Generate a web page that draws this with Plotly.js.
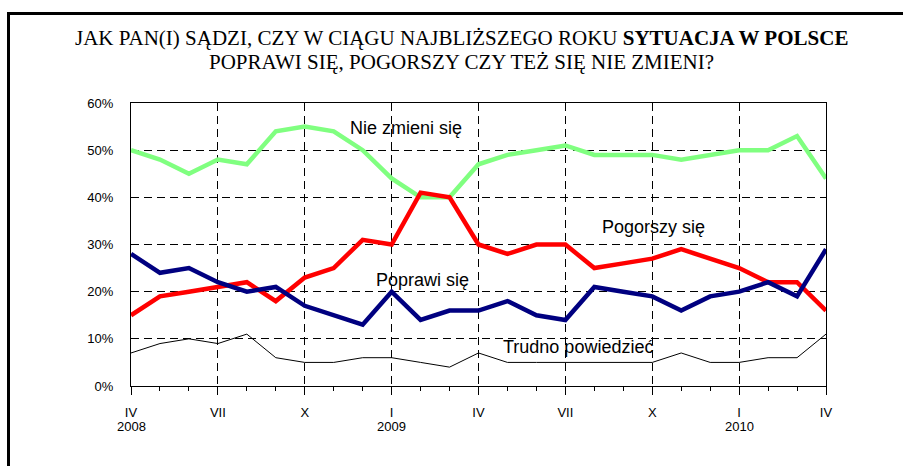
<!DOCTYPE html>
<html>
<head>
<meta charset="utf-8">
<script src="https://cdn.plot.ly/plotly-3.0.1.min.js"></script>
<style>
  html, body { margin: 0; padding: 0; background: #fff; overflow: hidden; }
  #frame {
    position: absolute; left: 7px; top: 12px; width: 1000px; height: 1000px;
    border-left: 3px solid #000; border-top: 3px solid #000; pointer-events: none;
  }
  #chart { width: 903px; height: 466px; }
</style>
</head>
<body>
<div id="chart"></div>
<div id="frame"></div>
<script>
// Monthly survey points, IV 2008 .. IV 2010
const months = Array.from({ length: 25 }, (_, i) => i);

const nieZmieni = [50, 48, 45, 48, 47, 54, 55, 54, 50, 44, 40, 40, 47, 49, 50, 51, 49, 49, 49, 48, 49, 50, 50, 53, 44];
const pogorszy  = [15, 19, 20, 21, 22, 18, 23, 25, 31, 30, 41, 40, 30, 28, 30, 30, 25, 26, 27, 29, 27, 25, 22, 22, 16];
const poprawi   = [28, 24, 25, 22, 20, 21, 17, 15, 13, 20, 14, 16, 16, 18, 15, 14, 21, 20, 19, 16, 19, 20, 22, 19, 29];
const trudno    = [7, 9, 10, 9, 11, 6, 5, 5, 6, 6, 5, 4, 7, 5, 5, 5, 5, 5, 5, 7, 5, 5, 6, 6, 11];

const tickVals = [0, 3, 6, 9, 12, 15, 18, 21, 24];
const tickText = ['IV', 'VII', 'X', 'I', 'IV', 'VII', 'X', 'I', 'IV'];
const yearVals = [0, 9, 21];
const yearText = ['2008', '2009', '2010'];

const titleLines = [
  'JAK PAN(I) SĄDZI, CZY W CIĄGU NAJBLIŻSZEGO ROKU <b>SYTUACJA W POLSCE</b>',
  'POPRAWI SIĘ, POGORSZY CZY TEŻ SIĘ NIE ZMIENI?'
];

const series = [
  { name: 'Nie zmieni się', y: nieZmieni, color: '#80FF80', width: 4.5 },
  { name: 'Pogorszy się', y: pogorszy, color: '#FF0000', width: 4.5 },
  { name: 'Poprawi się', y: poprawi, color: '#000080', width: 4.5 },
  { name: 'Trudno powiedzieć', y: trudno, color: '#000000', width: 1 }
];

// Label positions (month index, percent)
const labels = [
  { text: 'Nie zmieni się', x: 9.5, y: 54.6 },
  { text: 'Pogorszy się', x: 18.05, y: 33.7 },
  { text: 'Poprawi się', x: 10.05, y: 22.5 },
  { text: 'Trudno powiedzieć', x: 15.45, y: 8.2 }
];

const traces = series.map(s => ({
  type: 'scatter',
  mode: 'lines',
  x: months,
  y: s.y,
  name: s.name,
  line: { color: s.color, width: s.width },
  hoverinfo: 'skip'
}));

const sans = 'Liberation Sans, Arial, sans-serif';
const serif = 'Liberation Serif, Times New Roman, DejaVu Serif, serif';
const tickFont = { family: sans, size: 13, color: '#000' };

// year labels sit in a second row under the month ticks
const yearAnnotations = yearVals.map((v, i) => ({
  text: yearText[i],
  x: v,
  xref: 'x',
  y: 0,
  yref: 'paper',
  yanchor: 'middle',
  yshift: -40,
  showarrow: false,
  font: tickFont
}));

// title drawn as two centred annotation lines above the plot area
const titleAnnotations = titleLines.map((t, i) => ({
  text: t,
  x: 0.476,
  xref: 'paper',
  xanchor: 'center',
  y: 1,
  yref: 'paper',
  yanchor: 'middle',
  yshift: 65 - i * 24,
  showarrow: false,
  font: { family: serif, size: 21, color: '#000' }
}));

const layout = {
  width: 903,
  height: 466,
  margin: { l: 131, r: 77, t: 103, b: 80 },
  paper_bgcolor: '#fff',
  plot_bgcolor: '#fff',
  showlegend: false,
  xaxis: {
    range: [0, 24],
    tickmode: 'array',
    tickvals: tickVals,
    ticktext: tickText,
    ticks: 'outside',
    ticklen: 8,
    tickcolor: '#000',
    tickfont: tickFont,
    ticklabelstandoff: 6,
    showline: true,
    mirror: true,
    linecolor: '#000',
    linewidth: 1,
    showgrid: true,
    gridcolor: '#000',
    gridwidth: 1,
    griddash: '8px,5px',
    zeroline: false,
    minor: { tickmode: 'linear', tick0: 0, dtick: 1, ticks: 'outside', ticklen: 4, tickcolor: '#000', showgrid: false }
  },
  yaxis: {
    range: [0, 60],
    dtick: 10,
    ticksuffix: '%',
    ticks: '',
    tickfont: tickFont,
    ticklabelstandoff: 14,
    showline: true,
    mirror: true,
    linecolor: '#000',
    linewidth: 1,
    showgrid: true,
    gridcolor: '#000',
    gridwidth: 1,
    griddash: '8px,5px',
    zeroline: false
  },
  annotations: labels.map(l => ({
    text: l.text,
    x: l.x,
    y: l.y,
    xref: 'x',
    yref: 'y',
    showarrow: false,
    font: { family: sans, size: 18, color: '#000' }
  })).concat(yearAnnotations, titleAnnotations)
};

Plotly.newPlot('chart', traces, layout, { staticPlot: true, displayModeBar: false });
</script>
</body>
</html>
